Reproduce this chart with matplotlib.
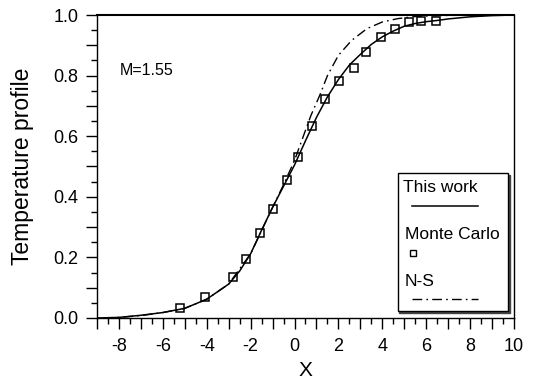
import matplotlib
matplotlib.use("Agg")
import matplotlib.pyplot as plt
from matplotlib.ticker import MultipleLocator, FuncFormatter
from matplotlib.patches import Rectangle
from matplotlib.lines import Line2D

plt.rcParams['font.family'] = ['Liberation Sans', 'DejaVu Sans']

# This work (solid)
x_work = [-9, -8, -7, -6, -5, -4, -3, -2.5, -2, -1.5, -1, -0.5, 0, 0.5, 1, 1.5, 2,
          2.5, 3, 3.5, 4, 4.5, 5, 5.5, 6, 6.5, 7, 8, 9, 10]
y_work = [0.0, 0.002, 0.009, 0.018, 0.032, 0.062, 0.112, 0.155, 0.212, 0.29, 0.365,
          0.435, 0.505, 0.585, 0.662, 0.73, 0.787, 0.835, 0.87, 0.903, 0.928, 0.947,
          0.963, 0.972, 0.978, 0.982, 0.987, 0.994, 0.998, 1.0]

# N-S (dash-dot)
x_ns = [-8.7, -8, -7, -6, -5, -4, -3, -2, -1, -0.5, 0, 0.3, 0.75, 1.15, 1.5, 2, 2.6,
        3.3, 4, 4.7, 5.5, 6.5, 8, 10]
y_ns = [0.0, 0.002, 0.008, 0.018, 0.032, 0.062, 0.112, 0.212, 0.365, 0.44, 0.52,
        0.58, 0.669, 0.735, 0.80, 0.867, 0.916, 0.955, 0.977, 0.988, 0.995, 0.998,
        1.0, 1.0]

# Monte Carlo (squares)
x_mc = [-5.2, -4.1, -2.8, -2.2, -1.58, -1.0, -0.35, 0.18, 0.8, 1.4, 2.03, 2.72,
        3.24, 3.93, 4.56, 5.2, 5.74, 6.43]
y_mc = [0.032, 0.068, 0.134, 0.195, 0.28, 0.36, 0.457, 0.53, 0.635, 0.722, 0.783,
        0.824, 0.879, 0.928, 0.954, 0.978, 0.98, 0.98]

x_ticklabels = [-8, -6, -4, -2, 0, 2, 4, 6, 8, 10]
y_ticklabels = [0.0, 0.2, 0.4, 0.6, 0.8, 1.0]

fig = plt.figure(figsize=(5.38, 3.87), dpi=100)
ax = fig.add_axes([97/538, (387-318)/387, (514-97)/538, (318-15)/387])

ns_dash = (0, (7, 3, 1.2, 3))
ax.plot(x_work, y_work, color='black', lw=1.1)
ax.plot(x_ns, y_ns, color='black', lw=1.0, linestyle=ns_dash)
ax.plot(x_mc, y_mc, linestyle='none', marker='s', markersize=5.2,
        markerfacecolor='none', markeredgecolor='black', markeredgewidth=1.1)

ax.set_xlim(-9, 10)
ax.set_ylim(0, 1)

ax.xaxis.set_major_locator(MultipleLocator(1))
ax.xaxis.set_minor_locator(MultipleLocator(0.5))
ax.yaxis.set_major_locator(MultipleLocator(0.1))
ax.yaxis.set_minor_locator(MultipleLocator(0.05))

def xfmt(v, pos):
    r = round(v)
    return f"{r}" if r in x_ticklabels else ""

def yfmt(v, pos):
    for t in y_ticklabels:
        if abs(v - t) < 1e-6:
            return f"{t:.1f}"
    return ""

ax.xaxis.set_major_formatter(FuncFormatter(xfmt))
ax.yaxis.set_major_formatter(FuncFormatter(yfmt))

ax.tick_params(which='major', direction='out', length=8, width=1.0, labelsize=13)
ax.tick_params(which='minor', direction='out', length=4.5, width=1.0)
ax.tick_params(axis='x', which='major', pad=6.5)
ax.tick_params(axis='y', which='major', pad=5.5)
ax.tick_params(top=False, right=False, which='both')

for s in ['left', 'bottom', 'right']:
    ax.spines[s].set_linewidth(1.0)
ax.spines['top'].set_linewidth(1.5)

ax.set_xlabel('X', fontsize=15, labelpad=4)
ax.set_ylabel('Temperature profile', fontsize=16.5)
ax.yaxis.set_label_coords(-0.151, 0.5)

ax.text(0.055, 0.818, 'M=1.55', transform=ax.transAxes, fontsize=11.5,
        ha='left', va='center')

# legend box
lx0, lx1, ly0, ly1 = 0.721, 0.986, 0.024, 0.4785
ax.add_patch(Rectangle((lx0 + 0.004, ly0 - 0.006), lx1 - lx0, ly1 - ly0,
                       transform=ax.transAxes, facecolor='#444444',
                       edgecolor='#444444', lw=1.0, zorder=4))
ax.add_patch(Rectangle((lx0, ly0), lx1 - lx0, ly1 - ly0, transform=ax.transAxes,
                       facecolor='white', edgecolor='black', lw=1.0, zorder=5))
ax.text(0.735, 0.432, 'This work', transform=ax.transAxes, fontsize=12.5,
        ha='left', va='center', zorder=6)
ax.add_line(Line2D([0.755, 0.914], [0.371, 0.371], transform=ax.transAxes,
                   color='black', lw=1.1, zorder=6))
ax.text(0.738, 0.274, 'Monte Carlo', transform=ax.transAxes, fontsize=12.5,
        ha='left', va='center', zorder=6)
ax.add_line(Line2D([0.757], [0.2135], transform=ax.transAxes, linestyle='none',
                   marker='s', markersize=4, markerfacecolor='none',
                   markeredgecolor='black', markeredgewidth=1.0, zorder=6))
ax.text(0.738, 0.12, 'N-S', transform=ax.transAxes, fontsize=12.5,
        ha='left', va='center', zorder=6)
ax.add_line(Line2D([0.755, 0.914], [0.062, 0.062], transform=ax.transAxes,
                   color='black', lw=1.0, linestyle=ns_dash, zorder=6))

fig.savefig('out.png', dpi=100)
